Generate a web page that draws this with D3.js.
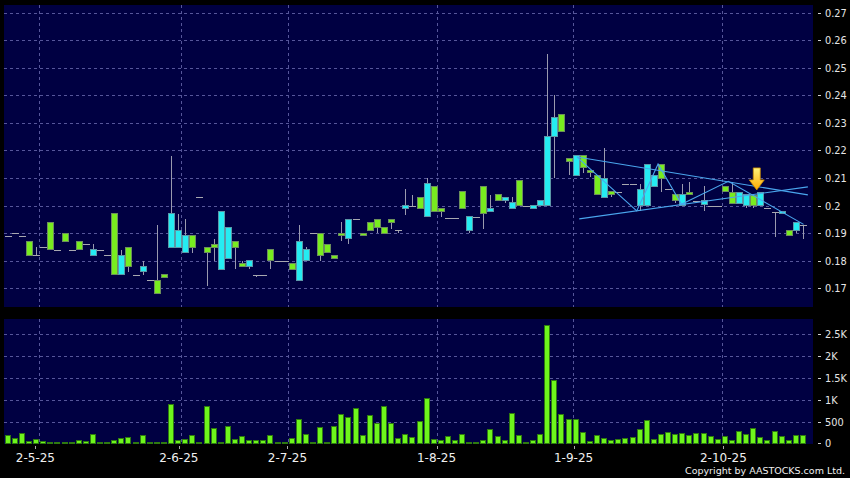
<!DOCTYPE html>
<html><head><meta charset="utf-8">
<script src="https://cdn.jsdelivr.net/npm/d3@7"></script>
<style>body{margin:0;background:#000}svg{display:block}</style>
</head><body>
<svg id="c" width="850" height="478"></svg>
<script>
// ---- data (index = trading session) ----
const opens  = [0.189,0.190,0.189,0.187,0.182,0.185,0.194,0.184,0.190,0.184,0.187,0.186,0.182,0.184,0.182,0.197,0.175,0.185,0.175,0.176,0.173,0.173,0.175,0.185,0.185,0.183,0.189,0.203,0.185,0.186,0.177,0.181,0.187,0.179,0.178,0.175,0.175,0.184,0.180,0.180,0.179,0.173,0.180,0.190,0.190,0.186,0.182,0.190,0.188,0.195,0.190,0.194,0.195,0.192,0.195,0.191,0.199,0.200,0.203,0.196,0.207,0.199,0.1954,0.1954,0.205,0.191,0.196,0.207,0.198,0.204,0.202,0.199,0.209,0.200,0.199,0.200,0.200,0.225,0.233,0.217,0.211,0.218,0.2127,0.211,0.203,0.205,0.205,0.208,0.208,0.200,0.200,0.207,0.215,0.206,0.204,0.200,0.2048,0.2018,0.2004,0.200,0.200,0.207,0.2048,0.2008,0.200,0.2035,0.200,0.199,0.1978,0.197,0.191,0.191,0.193];
const highs  = [0.189,0.190,0.189,0.187,0.185,0.185,0.194,0.184,0.190,0.184,0.187,0.186,0.186,0.184,0.182,0.197,0.184,0.185,0.175,0.180,0.173,0.193,0.175,0.218,0.197,0.195,0.189,0.203,0.185,0.188,0.198,0.192,0.187,0.180,0.180,0.175,0.175,0.184,0.180,0.180,0.179,0.193,0.185,0.190,0.190,0.186,0.182,0.194,0.195,0.195,0.190,0.194,0.195,0.192,0.195,0.191,0.206,0.204,0.203,0.210,0.207,0.199,0.1954,0.1954,0.205,0.196,0.196,0.207,0.204,0.204,0.203,0.203,0.209,0.200,0.200,0.202,0.255,0.240,0.233,0.217,0.218,0.218,0.2127,0.211,0.221,0.205,0.205,0.208,0.208,0.208,0.215,0.211,0.215,0.206,0.204,0.208,0.2087,0.2018,0.207,0.200,0.200,0.207,0.2087,0.2048,0.204,0.2035,0.2048,0.199,0.1978,0.198,0.191,0.194,0.193];
const lows   = [0.189,0.190,0.189,0.182,0.182,0.185,0.184,0.184,0.187,0.184,0.184,0.186,0.182,0.184,0.182,0.175,0.175,0.176,0.175,0.175,0.173,0.168,0.174,0.185,0.185,0.183,0.183,0.203,0.171,0.180,0.177,0.181,0.177,0.178,0.177,0.174,0.175,0.177,0.180,0.180,0.177,0.173,0.180,0.190,0.180,0.183,0.181,0.187,0.186,0.195,0.189,0.191,0.190,0.190,0.1917,0.190,0.1967,0.200,0.199,0.196,0.198,0.196,0.1954,0.1954,0.199,0.190,0.196,0.1917,0.198,0.202,0.2008,0.199,0.200,0.200,0.199,0.200,0.200,0.210,0.227,0.211,0.211,0.212,0.2105,0.204,0.203,0.203,0.205,0.208,0.208,0.198,0.200,0.207,0.205,0.206,0.2008,0.200,0.204,0.2018,0.198,0.200,0.200,0.205,0.2008,0.2008,0.199,0.199,0.200,0.199,0.1887,0.197,0.189,0.190,0.1878];
const closes = [0.189,0.190,0.189,0.182,0.182,0.185,0.184,0.184,0.187,0.184,0.184,0.186,0.184,0.184,0.182,0.175,0.182,0.178,0.175,0.178,0.173,0.168,0.174,0.197,0.191,0.189,0.185,0.203,0.183,0.185,0.198,0.192,0.185,0.178,0.180,0.175,0.175,0.180,0.180,0.180,0.177,0.187,0.184,0.190,0.182,0.183,0.181,0.189,0.195,0.195,0.189,0.191,0.192,0.190,0.194,0.191,0.200,0.200,0.199,0.208,0.198,0.198,0.1954,0.1954,0.199,0.196,0.196,0.197,0.199,0.202,0.203,0.201,0.200,0.200,0.200,0.202,0.225,0.232,0.227,0.216,0.218,0.214,0.212,0.204,0.210,0.204,0.205,0.208,0.208,0.206,0.215,0.211,0.210,0.206,0.202,0.204,0.204,0.2018,0.2018,0.200,0.200,0.205,0.2008,0.2048,0.204,0.200,0.2048,0.199,0.1978,0.198,0.189,0.194,0.193];
const volumes = [190,100,215,45,85,30,0,0,5,5,70,45,210,20,0,60,105,140,0,170,20,15,25,900,60,85,180,0,840,330,10,385,85,145,70,60,60,180,25,25,120,540,200,0,355,15,385,660,600,790,170,645,455,835,460,115,210,125,500,1020,95,55,160,75,210,15,0,75,310,150,55,680,185,20,55,200,2710,1430,660,553,553,245,30,170,100,60,90,107,122,307,530,77,192,253,192,215,177,230,230,153,90,153,60,260,200,345,130,70,270,153,60,185,170];

const dateLabels = ["2-5-25","2-6-25","2-7-25","1-8-25","1-9-25","2-10-25"];
const dateTickIdx = [3.9,24.1,39.4,60.4,79.7,100.8];
const dateGridIdx = [4.45,24.4,39.5,60.5,79.6,100.6];
const priceTicks = [0.17,0.18,0.19,0.20,0.21,0.22,0.23,0.24,0.25,0.26,0.27];
const priceTickLabels = ["0.17","0.18","0.19","0.2","0.21","0.22","0.23","0.24","0.25","0.26","0.27"];
const volTicks = [0,500,1000,1500,2000,2500];
const volTickLabels = ["0","500","1K","1.5K","2K","2.5K"];

// trendlines drawn by analyst: [index, price] points
const lineUpper = [[80.2,0.2176],[112.7,0.2039]];
const lineLower = [[80.5,0.1952],[112.7,0.2068]];
const lineZigzag = [[80.2,0.2176],[88.6,0.1981],[91.6,0.2151],[94.9,0.2005],[101.5,0.2088],[112.1,0.1932]];
const arrowAt = [105.5,0.2057];

// ---- layout ----
const svg = d3.select("#c");
const P = {x0:4, x1:813, y0:5, y1:307};
const V = {x0:4, x1:813, y0:319, y1:444};

const x = d3.scaleLinear().domain([0,112]).range([7.7,802.9]);
const y = d3.scaleLinear().domain([0.17,0.27]).range([288.4,12.5]);
const yv = d3.scaleLinear().domain([0,2500]).range([443.3,334.3]);

svg.append("rect").attr("width",850).attr("height",478).attr("fill","#000");
svg.append("rect").attr("x",P.x0).attr("y",P.y0).attr("width",P.x1-P.x0).attr("height",P.y1-P.y0).attr("fill","#000042");
svg.append("rect").attr("x",V.x0).attr("y",V.y0).attr("width",V.x1-V.x0).attr("height",V.y1-V.y0).attr("fill","#000042");

const gridCol = "#56569a";
const g = svg.append("g").attr("shape-rendering","crispEdges");
g.selectAll(".hp").data(priceTicks).join("line")
  .attr("x1",P.x0).attr("x2",P.x1).attr("y1",d=>Math.round(y(d))+0.5).attr("y2",d=>Math.round(y(d))+0.5)
  .attr("stroke",gridCol).attr("stroke-dasharray","3,3");
g.selectAll(".hv").data(volTicks.slice(1)).join("line")
  .attr("x1",V.x0).attr("x2",V.x1).attr("y1",d=>Math.round(yv(d))+0.5).attr("y2",d=>Math.round(yv(d))+0.5)
  .attr("stroke",gridCol).attr("stroke-dasharray","3,3");
dateGridIdx.forEach(i=>{
  const xx = Math.round(x(i))+0.5;
  g.append("line").attr("x1",xx).attr("x2",xx).attr("y1",P.y0).attr("y2",P.y1).attr("stroke",gridCol).attr("stroke-dasharray","3,3");
  g.append("line").attr("x1",xx).attr("x2",xx).attr("y1",V.y0).attr("y2",V.y1).attr("stroke",gridCol).attr("stroke-dasharray","3,3");
});

// right axes
const axG = svg.append("g").attr("font-family","DejaVu Sans, Verdana, sans-serif").attr("font-size","9.8px").attr("fill","#e6e6e6");
priceTicks.forEach((t,k)=>{
  const yy = Math.round(y(t))+0.5;
  axG.append("line").attr("x1",818).attr("x2",821).attr("y1",yy).attr("y2",yy).attr("stroke","#cfcfcf");
  axG.append("text").attr("x",825).attr("y",yy).attr("dy","0.35em").text(priceTickLabels[k]);
});
volTicks.forEach((t,k)=>{
  const yy = Math.round(yv(t))+0.5;
  axG.append("line").attr("x1",818).attr("x2",821).attr("y1",yy).attr("y2",yy).attr("stroke","#cfcfcf");
  axG.append("text").attr("x",825).attr("y",yy).attr("dy","0.35em").text(volTickLabels[k]);
});
// date axis
const dG = svg.append("g").attr("font-family","DejaVu Sans, Verdana, sans-serif").attr("font-size","12px").attr("fill","#f0f0f0");
dateTickIdx.forEach((i,k)=>{
  const xx = Math.round(x(i))+0.5;
  dG.append("line").attr("x1",xx).attr("x2",xx).attr("y1",446).attr("y2",449).attr("stroke","#aaaaaa");
  dG.append("text").attr("x",x(i)).attr("y",462).attr("text-anchor","middle").text(dateLabels[k]);
});
svg.append("text").attr("x",845).attr("y",474).attr("text-anchor","end")
  .attr("font-family","DejaVu Sans, Verdana, sans-serif").attr("font-size","9.5px").attr("fill","#f0f0f0")
  .text("Copyright by AASTOCKS.com Ltd.");

// volume bars
svg.append("g").attr("shape-rendering","crispEdges").selectAll("rect").data(volumes).join("rect")
  .attr("x",(d,i)=>Math.round(x(i))-2.5).attr("width",5)
  .attr("y",d=>Math.min(yv(d),442.5)).attr("height",d=>Math.max(443.3-yv(d),0.8))
  .attr("fill","#6ef51c").attr("stroke","#2f7a10").attr("stroke-width",1);

// candles
const idx = d3.range(opens.length);
const cg = svg.append("g").attr("shape-rendering","crispEdges");
cg.selectAll(".w").data(idx.filter(i=>highs[i]>lows[i])).join("line")
  .attr("x1",i=>Math.round(x(i))+0.5).attr("x2",i=>Math.round(x(i))+0.5)
  .attr("y1",i=>y(highs[i])).attr("y2",i=>y(lows[i])).attr("stroke","#9a9aae");
cg.selectAll(".f").data(idx.filter(i=>opens[i]===closes[i])).join("line")
  .attr("x1",i=>Math.round(x(i))-3).attr("x2",i=>Math.round(x(i))+4)
  .attr("y1",i=>Math.round(y(opens[i]))+0.5).attr("y2",i=>Math.round(y(opens[i]))+0.5).attr("stroke","#a8a8b0");
cg.selectAll(".b").data(idx.filter(i=>opens[i]!==closes[i])).join("rect")
  .attr("x",i=>Math.round(x(i))-2.5).attr("width",6)
  .attr("y",i=>y(Math.max(opens[i],closes[i])))
  .attr("height",i=>Math.max(Math.abs(y(opens[i])-y(closes[i])),1.5))
  .attr("fill",i=>closes[i]>opens[i]?"#25ecf2":"#78ec1f")
  .attr("stroke",i=>closes[i]>opens[i]?"#5b98a8":"#6c8e5c").attr("stroke-width",1);

// trendlines
const ln = d3.line().x(d=>x(d[0])).y(d=>y(d[1]));
[lineUpper,lineLower,lineZigzag].forEach(L=>{
  svg.append("path").attr("d",ln(L)).attr("fill","none").attr("stroke","#4aa6ee").attr("stroke-width",1.1);
});

// arrow
const defs = svg.append("defs");
const gr = defs.append("linearGradient").attr("id","ag").attr("x1",0).attr("x2",0).attr("y1",0).attr("y2",1);
gr.append("stop").attr("offset","0%").attr("stop-color","#fff27a");
gr.append("stop").attr("offset","100%").attr("stop-color","#ffa800");
const ax = x(arrowAt[0]), ay = y(arrowAt[1]);
svg.append("path")
  .attr("d",`M${ax-3.5},${ay-22} L${ax+3.5},${ay-22} L${ax+3.5},${ay-10} L${ax+7.5},${ay-10} L${ax},${ay} L${ax-7.5},${ay-10} L${ax-3.5},${ay-10} Z`)
  .attr("fill","url(#ag)").attr("stroke","#c88a00").attr("stroke-width",0.8);
</script>
</body></html>
